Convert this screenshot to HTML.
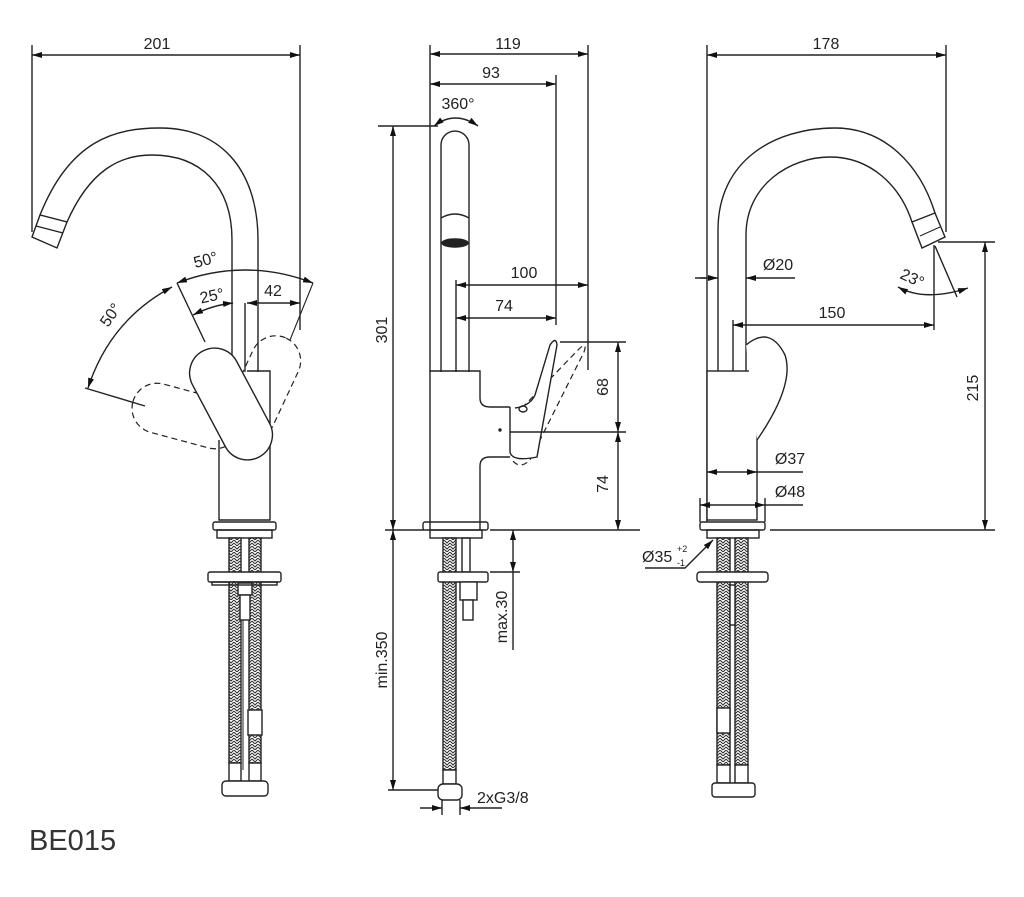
<!DOCTYPE html>
<html><head><meta charset="utf-8"><style>
html,body{margin:0;padding:0;background:#fff}
svg{display:block}
text{font-family:"Liberation Sans",sans-serif;fill:#222}
</style></head><body>
<svg width="1024" height="897" viewBox="0 0 1024 897" xmlns="http://www.w3.org/2000/svg">
<defs>
<marker id="a" viewBox="0 0 10 6" refX="10" refY="3" markerWidth="10" markerHeight="6" orient="auto-start-reverse" markerUnits="userSpaceOnUse"><path d="M0,0L10,3L0,6z" fill="#111"/></marker>
<pattern id="h" width="6" height="6" patternUnits="userSpaceOnUse"><rect width="6" height="6" fill="#fff"/><path d="M0,0L3,3L6,0M0,3L3,6L6,3" stroke="#333" stroke-width="1.1" fill="none"/></pattern>
</defs>
<g stroke="#222" stroke-width="1.4" fill="none">

<!-- ===== LEFT VIEW ===== -->
<line x1="32" y1="45" x2="32" y2="232"/>
<line x1="300" y1="45" x2="300" y2="330"/>
<line x1="32" y1="55" x2="300" y2="55" marker-start="url(#a)" marker-end="url(#a)"/>
<!-- spout -->
<path d="M40,215 C70,140 115,128 160,128 C225,128 258,175 258,240 L258,372"/>
<path d="M67,222 C90,170 120,155 152,155 C200,155 232,185 232,240 L232,372"/>
<path d="M32,237 L40,215 L67,222 L57,248 Z" fill="#fff"/>
<line x1="36" y1="226" x2="63" y2="233"/>
<line x1="245" y1="303" x2="245" y2="372"/>
<!-- body -->
<path d="M247,371 L270,371 L270,520 L219,520 L219,440"/>
<rect x="213" y="522" width="63" height="8" rx="2"/>
<rect x="217" y="530" width="55" height="8"/>
<!-- dashed levers -->
<g stroke-dasharray="6,4" stroke-width="1.2">
<rect x="-25" y="-55" width="50" height="110" rx="25" transform="translate(263,388) rotate(25)"/>
<rect x="-25" y="-55" width="50" height="110" rx="25" transform="translate(186,416) rotate(-75)"/>
</g>
<!-- lever -->
<rect x="-25" y="-60" width="50" height="120" rx="25" transform="translate(231,404) rotate(-28)" fill="#fff"/>
<!-- angle dims -->
<path d="M177,283 Q245,257 313,283" marker-start="url(#a)" marker-end="url(#a)"/>
<path d="M193,315 Q213,305 233,303" marker-start="url(#a)" marker-end="url(#a)"/>
<line x1="247" y1="303" x2="300" y2="303" marker-start="url(#a)" marker-end="url(#a)"/>
<path d="M172,287 Q110,320 88,388" marker-start="url(#a)" marker-end="url(#a)"/>
<line x1="177" y1="283" x2="205" y2="342"/>
<line x1="313" y1="283" x2="290" y2="340" stroke-width="1.1"/>
<line x1="85" y1="388" x2="145" y2="406"/>
<!-- hoses left -->
<rect x="229" y="538" width="12" height="225" fill="url(#h)"/>
<rect x="249" y="538" width="12" height="225" fill="url(#h)"/>
<rect x="248" y="710" width="14" height="25" fill="#fff"/>
<line x1="243" y1="600" x2="243" y2="770" stroke-width="1"/>
<rect x="238" y="583" width="14" height="12" fill="#fff"/>
<rect x="240" y="595" width="10" height="25" fill="#fff"/>
<rect x="208" y="572" width="73" height="10" rx="2" fill="#fff"/>
<rect x="212" y="582" width="65" height="3"/>
<rect x="229" y="763" width="12" height="18" fill="#fff"/>
<rect x="249" y="763" width="12" height="18" fill="#fff"/>
<rect x="222" y="781" width="46" height="15" rx="4" fill="#fff"/>

<!-- ===== MIDDLE VIEW ===== -->
<line x1="430" y1="45" x2="430" y2="372"/>
<line x1="556" y1="75" x2="556" y2="325"/>
<line x1="588" y1="45" x2="588" y2="370"/>
<line x1="430" y1="54" x2="588" y2="54" marker-start="url(#a)" marker-end="url(#a)"/>
<line x1="430" y1="84" x2="556" y2="84" marker-start="url(#a)" marker-end="url(#a)"/>
<path d="M434,126 Q455,110 478,126" marker-start="url(#a)" marker-end="url(#a)"/>
<!-- spout -->
<path d="M441,372 L441,145 A14,14 0 0 1 469,145 L469,372"/>
<path d="M441,218 Q455,210 469,218"/>
<ellipse cx="455" cy="243" rx="13" ry="4" fill="#222"/>
<line x1="456" y1="280" x2="456" y2="372"/>
<line x1="456" y1="285" x2="588" y2="285" marker-start="url(#a)" marker-end="url(#a)"/>
<line x1="456" y1="318" x2="556" y2="318" marker-start="url(#a)" marker-end="url(#a)"/>
<!-- body -->
<path d="M430,530 L430,371 L480,371 L480,398 Q480,407 490,407 L510,407"/>
<path d="M480,530 L480,466 Q480,457 490,457 L510,457"/>
<!-- dashed lever -->
<path d="M522,408 L578,350 Q588,340 584,352 L530,460 Q520,470 512,460" stroke-dasharray="6,4" stroke-width="1.2"/>
<!-- lever -->
<path d="M510,407 L510,452 Q512,462 537,457 L557,345 Q556,336 550,345 L535,395 Q530,406 515,408" fill="#fff"/>
<ellipse cx="523" cy="409" rx="4" ry="3"/>
<circle cx="500" cy="430" r="1" fill="#222"/>
<!-- right dims -->
<line x1="560" y1="342" x2="626" y2="342"/>
<line x1="510" y1="432" x2="626" y2="432"/>
<line x1="618" y1="342" x2="618" y2="432" marker-start="url(#a)" marker-end="url(#a)"/>
<line x1="618" y1="432" x2="618" y2="530" marker-start="url(#a)" marker-end="url(#a)"/>
<line x1="490" y1="530" x2="640" y2="530"/>
<!-- 301 -->
<line x1="378" y1="126" x2="438" y2="126"/>
<line x1="385" y1="530" x2="424" y2="530"/>
<line x1="393" y1="126" x2="393" y2="530" marker-start="url(#a)" marker-end="url(#a)"/>
<line x1="393" y1="530" x2="393" y2="790" marker-start="url(#a)" marker-end="url(#a)"/>
<line x1="388" y1="790" x2="440" y2="790"/>
<line x1="490" y1="572" x2="520" y2="572"/>
<line x1="513" y1="530" x2="513" y2="572" marker-start="url(#a)" marker-end="url(#a)"/>
<line x1="513" y1="572" x2="513" y2="650"/>
<!-- base & hoses middle -->
<rect x="423" y="522" width="65" height="8" rx="2"/>
<rect x="430" y="530" width="52" height="8"/>
<rect x="443" y="538" width="13" height="232" fill="url(#h)"/>
<rect x="462" y="538" width="8" height="34"/>
<rect x="438" y="572" width="50" height="10" rx="2" fill="#fff"/>
<rect x="460" y="582" width="17" height="18" fill="#fff"/>
<rect x="463" y="600" width="10" height="20" fill="#fff"/>
<rect x="443" y="770" width="13" height="14" fill="#fff"/>
<rect x="438" y="784" width="24" height="16" rx="5" fill="#fff"/>
<line x1="442" y1="800" x2="442" y2="815"/>
<line x1="460" y1="800" x2="460" y2="815"/>
<line x1="420" y1="808" x2="442" y2="808" marker-end="url(#a)"/>
<line x1="502" y1="808" x2="460" y2="808" marker-end="url(#a)"/>

<!-- ===== RIGHT VIEW ===== -->
<line x1="707" y1="45" x2="707" y2="522"/>
<line x1="946" y1="45" x2="946" y2="232"/>
<line x1="707" y1="55" x2="946" y2="55" marker-start="url(#a)" marker-end="url(#a)"/>
<!-- spout -->
<path d="M718,371 L718,230 C718,160 775,128 835,128 C885,128 920,165 935,213"/>
<path d="M746,371 L746,235 C746,185 790,157 830,157 C870,157 900,185 912,222"/>
<path d="M912,222 L935,213 L945,237 L922,248 Z" fill="#fff"/>
<line x1="920" y1="236" x2="940" y2="227" stroke-width="1"/>
<line x1="733" y1="320" x2="733" y2="371"/>
<!-- body -->
<rect x="707" y="371" width="50" height="149" fill="#fff"/>
<path d="M746,345 Q770,325 785,355 Q795,385 757,440" fill="#fff"/>
<rect x="700" y="522" width="65" height="8" rx="2"/>
<rect x="707" y="530" width="52" height="8"/>
<!-- dims -->
<line x1="700" y1="278" x2="707" y2="278"/>
<line x1="695" y1="278" x2="718" y2="278" marker-end="url(#a)"/>
<line x1="795" y1="278" x2="746" y2="278" marker-end="url(#a)"/>
<line x1="934" y1="245" x2="934" y2="330"/>
<line x1="935" y1="246" x2="957" y2="297"/>
<path d="M898,287 Q925,302 968,288" marker-start="url(#a)" marker-end="url(#a)"/>
<line x1="733" y1="325" x2="934" y2="325" marker-start="url(#a)" marker-end="url(#a)"/>
<line x1="707" y1="472" x2="757" y2="472" marker-start="url(#a)" marker-end="url(#a)"/>
<line x1="757" y1="472" x2="803" y2="472"/>
<line x1="700" y1="505" x2="765" y2="505" marker-start="url(#a)" marker-end="url(#a)"/>
<line x1="765" y1="505" x2="803" y2="505"/>
<line x1="700" y1="498" x2="700" y2="522"/>
<line x1="765" y1="498" x2="765" y2="522"/>
<line x1="938" y1="242" x2="995" y2="242"/>
<line x1="770" y1="530" x2="995" y2="530"/>
<line x1="985" y1="242" x2="985" y2="530" marker-start="url(#a)" marker-end="url(#a)"/>
<path d="M645,568 L685,568 L713,540" marker-end="url(#a)"/>
<!-- hoses right -->
<rect x="717" y="538" width="13" height="227" fill="url(#h)"/>
<rect x="735" y="538" width="13" height="227" fill="url(#h)"/>
<rect x="717" y="708" width="13" height="25" fill="#fff"/>
<rect x="730" y="585" width="5" height="40" fill="#fff"/>
<rect x="697" y="572" width="71" height="10" rx="3" fill="#fff"/>
<rect x="717" y="765" width="13" height="18" fill="#fff"/>
<rect x="735" y="765" width="13" height="18" fill="#fff"/>
<rect x="712" y="783" width="43" height="14" rx="3" fill="#fff"/>
</g>

<!-- ===== TEXT ===== -->
<g font-size="16">
<text x="157" y="49" text-anchor="middle">201</text>
<text x="508" y="49" text-anchor="middle">119</text>
<text x="491" y="78" text-anchor="middle">93</text>
<text x="458" y="109" text-anchor="middle">360°</text>
<text x="826" y="49" text-anchor="middle">178</text>
<text x="207" y="265" transform="rotate(-15 207 265)" text-anchor="middle">50°</text>
<text x="213" y="301" transform="rotate(-12 213 301)" text-anchor="middle">25°</text>
<text x="273" y="296" text-anchor="middle">42</text>
<text x="115" y="318" transform="rotate(-55 115 318)" text-anchor="middle">50°</text>
<text x="524" y="278" text-anchor="middle">100</text>
<text x="504" y="311" text-anchor="middle">74</text>
<text x="608" y="387" transform="rotate(-90 608 387)" text-anchor="middle">68</text>
<text x="608" y="484" transform="rotate(-90 608 484)" text-anchor="middle">74</text>
<text x="387" y="330" transform="rotate(-90 387 330)" text-anchor="middle">301</text>
<text x="387" y="660" transform="rotate(-90 387 660)" text-anchor="middle">min.350</text>
<text x="507" y="617" transform="rotate(-90 507 617)" text-anchor="middle">max.30</text>
<text x="477" y="803">2xG3/8</text>
<text x="778" y="270" text-anchor="middle">Ø20</text>
<text x="910" y="283" transform="rotate(25 910 283)" text-anchor="middle">23°</text>
<text x="832" y="318" text-anchor="middle">150</text>
<text x="978" y="388" transform="rotate(-90 978 388)" text-anchor="middle">215</text>
<text x="790" y="464" text-anchor="middle">Ø37</text>
<text x="790" y="497" text-anchor="middle">Ø48</text>
<text x="642" y="562">Ø35</text>
<text x="677" y="552" font-size="9">+2</text>
<text x="677" y="566" font-size="9">-1</text>
</g>
<text x="29" y="850" font-size="29" style="fill:#333">BE015</text>
</svg>
</body></html>
